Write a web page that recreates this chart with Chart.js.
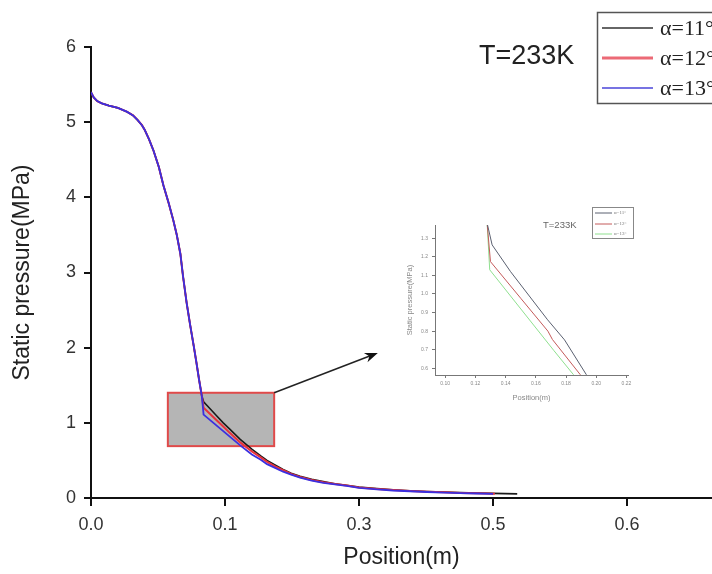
<!DOCTYPE html>
<html><head><meta charset="utf-8">
<script src="https://cdn.jsdelivr.net/npm/chart.js@4"></script>
<style>
html,body{margin:0;padding:0;background:#fff;overflow:hidden}
#wrap{position:relative;width:712px;height:574px}
#main{position:absolute;left:0;top:0}
#inset{position:absolute;left:395px;top:200px}
</style></head><body>
<div id="wrap"><canvas id="main" width="712" height="574"></canvas><canvas id="inset" width="255" height="210"></canvas></div>
<script>
// ---------- data (main chart) ----------
const seriesLabels = ['α=11°', 'α=12°', 'α=13°'];
// upstream part (identical for the three angles)
const upstreamPos = [0, 0.003, 0.007, 0.012, 0.020, 0.030, 0.040, 0.047, 0.052, 0.057, 0.060, 0.065, 0.070, 0.076, 0.081, 0.087, 0.092, 0.096, 0.100, 0.103, 0.107, 0.111, 0.115, 0.118, 0.121, 0.124];
const upstreamP   = [5.40, 5.33, 5.28, 5.25, 5.22, 5.19, 5.14, 5.09, 5.03, 4.96, 4.90, 4.77, 4.62, 4.40, 4.16, 3.92, 3.70, 3.50, 3.25, 2.95, 2.60, 2.30, 2.02, 1.80, 1.57, 1.36];
// downstream part per angle
const pos11 = [0.126, 0.133, 0.140, 0.148, 0.155, 0.167, 0.180, 0.190, 0.197, 0.206, 0.215, 0.224, 0.234, 0.247, 0.260, 0.273, 0.286, 0.300, 0.320, 0.338, 0.357, 0.376, 0.395, 0.413, 0.432, 0.450, 0.477];
const p11   = [1.28, 1.19, 1.10, 1.00, 0.92, 0.78, 0.65, 0.56, 0.50, 0.44, 0.38, 0.33, 0.29, 0.25, 0.22, 0.19, 0.17, 0.145, 0.125, 0.11, 0.097, 0.087, 0.079, 0.072, 0.067, 0.062, 0.055];
const pos12 = [0.126, 0.133, 0.140, 0.148, 0.155, 0.167, 0.180, 0.190, 0.197, 0.206, 0.215, 0.224, 0.234, 0.247, 0.260, 0.273, 0.286, 0.300, 0.320, 0.338, 0.357, 0.376, 0.395, 0.413, 0.432, 0.452];
const p12   = [1.20, 1.12, 1.04, 0.95, 0.87, 0.74, 0.62, 0.54, 0.48, 0.42, 0.37, 0.32, 0.28, 0.24, 0.21, 0.185, 0.165, 0.14, 0.12, 0.105, 0.093, 0.083, 0.075, 0.068, 0.063, 0.058];
const pos13 = [0.126, 0.133, 0.140, 0.148, 0.155, 0.167, 0.180, 0.190, 0.197, 0.206, 0.215, 0.224, 0.234, 0.247, 0.260, 0.273, 0.286, 0.300, 0.320, 0.338, 0.357, 0.376, 0.395, 0.413, 0.432, 0.450];
const p13   = [1.11, 1.04, 0.97, 0.89, 0.82, 0.70, 0.58, 0.51, 0.45, 0.40, 0.35, 0.31, 0.27, 0.23, 0.20, 0.18, 0.16, 0.135, 0.115, 0.10, 0.09, 0.08, 0.072, 0.065, 0.06, 0.055];
const xTickValues = [0, 0.15, 0.30, 0.45, 0.60];
const xTickLabels = ['0.0', '0.1', '0.3', '0.5', '0.6'];
const yTickValues = [0, 1, 2, 3, 4, 5, 6];
const zoomRegion = [0.086, 0.205, 0.69, 1.40];   // x0, x1, y0, y1
const arrowTip = [0.321, 1.93];
const tempLabel = 'T=233K';

// ---------- data (inset) ----------
const insPos11 = [0.1278, 0.1311, 0.1433, 0.1678, 0.1790, 0.1935];
const insP11   = [1.38, 1.264, 1.12, 0.861, 0.753, 0.565];
const insPos12 = [0.1278, 0.1300, 0.1500, 0.1680, 0.1710, 0.1895];
const insP12   = [1.38, 1.174, 0.977, 0.800, 0.755, 0.565];
const insPos13 = [0.1278, 0.1295, 0.1720, 0.1850];
const insP13   = [1.38, 1.13, 0.695, 0.565];
const insXTicks = [0.10, 0.12, 0.14, 0.16, 0.18, 0.20, 0.22];
const insYTicks = [0.6, 0.7, 0.8, 0.9, 1.0, 1.1, 1.2, 1.3];

const pts = (xs, ys) => xs.map((x, i) => ({x: x, y: ys[i]}));
const withUpstream = (xs, ys) => pts(upstreamPos, upstreamP).concat(pts(xs, ys));
const SANS = "'Liberation Sans', Arial, sans-serif";
const SERIF = "'Liberation Serif', 'Times New Roman', serif";
const mainColors = ['#1a1a1a', '#e8323c', '#3b2fe0'];
const insetColors = ['#5a6070', '#c45a5a', '#8fe08f'];

// ---------- main chart overlay ----------
const overlay = {
  id: 'overlay',
  beforeDatasetsDraw(chart) {
    const {ctx, scales: {x, y}} = chart;
    const x0 = x.getPixelForValue(zoomRegion[0]), x1 = x.getPixelForValue(zoomRegion[1]);
    const y0 = y.getPixelForValue(zoomRegion[3]), y1 = y.getPixelForValue(zoomRegion[2]);
    ctx.save();
    ctx.fillStyle = '#b5b5b5';
    ctx.fillRect(x0, y0, x1 - x0, y1 - y0);
    ctx.strokeStyle = '#e04a4a';
    ctx.lineWidth = 2;
    ctx.strokeRect(x0, y0, x1 - x0, y1 - y0);
    ctx.restore();
  },
  afterDatasetsDraw(chart) {
    const {ctx, scales: {x, y}} = chart;
    const sx = x.getPixelForValue(zoomRegion[1]), sy = y.getPixelForValue(zoomRegion[3]);
    const ex = x.getPixelForValue(arrowTip[0]), ey = y.getPixelForValue(arrowTip[1]);
    const ang = Math.atan2(ey - sy, ex - sx);
    ctx.save();
    ctx.strokeStyle = '#222';
    ctx.lineWidth = 1.5;
    ctx.beginPath();
    ctx.moveTo(sx, sy);
    ctx.lineTo(ex - 8 * Math.cos(ang), ey - 8 * Math.sin(ang));
    ctx.stroke();
    ctx.fillStyle = '#111';
    ctx.beginPath();
    ctx.moveTo(ex, ey);
    ctx.lineTo(ex - 13 * Math.cos(ang) + 5 * Math.sin(ang), ey - 13 * Math.sin(ang) - 5 * Math.cos(ang));
    ctx.lineTo(ex - 9 * Math.cos(ang), ey - 9 * Math.sin(ang));
    ctx.lineTo(ex - 13 * Math.cos(ang) - 5 * Math.sin(ang), ey - 13 * Math.sin(ang) + 5 * Math.cos(ang));
    ctx.closePath();
    ctx.fill();
    ctx.restore();
  },
  afterDraw(chart) {
    const ctx = chart.ctx;
    ctx.save();
    ctx.fillStyle = '#222';
    ctx.font = '27px ' + SANS;
    ctx.textBaseline = 'middle';
    ctx.textAlign = 'left';
    ctx.fillText(tempLabel, 479, 57);
    ctx.strokeStyle = '#555';
    ctx.lineWidth = 1.5;
    ctx.strokeRect(597.5, 12.5, 200, 91);
    const rows = [28, 58, 88];
    const widths = [1.5, 3, 1.5];
    const legColors = ['#333', '#ec6a76', '#4a44d8'];
    ctx.font = '22px ' + SERIF;
    chart.data.datasets.forEach((ds, i) => {
      ctx.strokeStyle = legColors[i];
      ctx.lineWidth = widths[i];
      ctx.beginPath();
      ctx.moveTo(602, rows[i]);
      ctx.lineTo(653, rows[i]);
      ctx.stroke();
      ctx.fillStyle = '#222';
      ctx.fillText(ds.label, 660, rows[i] + 1);
    });
    ctx.restore();
  }
};

new Chart(document.getElementById('main'), {
  type: 'line',
  data: {
    datasets: [
      {label: seriesLabels[0], data: withUpstream(pos11, p11), borderColor: mainColors[0], borderWidth: 1.6, pointRadius: 0, tension: 0, order: 2},
      {label: seriesLabels[1], data: withUpstream(pos12, p12), borderColor: mainColors[1], borderWidth: 2, pointRadius: 0, tension: 0, order: 1},
      {label: seriesLabels[2], data: withUpstream(pos13, p13), borderColor: mainColors[2], borderWidth: 1.8, pointRadius: 0, tension: 0, order: 0}
    ]
  },
  options: {
    responsive: false,
    animation: false,
    events: [],
    layout: {padding: {top: 47, right: 0, bottom: 0, left: 0}},
    plugins: {legend: {display: false}, tooltip: {enabled: false}},
    scales: {
      x: {
        type: 'linear', min: 0, max: 0.695,
        afterBuildTicks: s => { s.ticks = xTickValues.map(v => ({value: v})); },
        ticks: {callback: (v, i) => xTickLabels[i], font: {family: SANS, size: 18}, color: '#333', padding: 8, maxRotation: 0, autoSkip: false},
        grid: {display: true, drawOnChartArea: false, drawTicks: true, tickLength: 8, color: '#111', lineWidth: 2},
        border: {display: true, color: '#111', width: 2},
        title: {display: true, text: 'Position(m)', font: {family: SANS, size: 23}, color: '#222', padding: {top: 0, bottom: 3}},
        afterFit: s => { s.height = 76; }
      },
      y: {
        type: 'linear', min: 0, max: 6,
        afterBuildTicks: s => { s.ticks = yTickValues.map(v => ({value: v})); },
        ticks: {callback: v => String(v), font: {family: SANS, size: 18}, color: '#333', padding: 8},
        grid: {display: true, drawOnChartArea: false, drawTicks: true, tickLength: 7, color: '#111', lineWidth: 2},
        border: {display: true, color: '#111', width: 2},
        title: {display: true, text: 'Static pressure(MPa)', font: {family: SANS, size: 23}, color: '#222', padding: {top: 9, bottom: 0}},
        afterFit: s => { s.width = 91; }
      }
    }
  },
  plugins: [overlay]
});

// ---------- inset chart ----------
const insetOverlay = {
  id: 'insetOverlay',
  afterDraw(chart) {
    const ctx = chart.ctx;
    ctx.save();
    ctx.fillStyle = '#666';
    ctx.font = '9.5px ' + SANS;
    ctx.textBaseline = 'middle';
    ctx.fillText(tempLabel, 148, 25);
    ctx.strokeStyle = '#888';
    ctx.lineWidth = 1;
    ctx.strokeRect(197.5, 7.5, 41, 31);
    const rows = [13, 24, 34];
    ctx.font = '5px ' + SERIF;
    chart.data.datasets.forEach((ds, i) => {
      ctx.strokeStyle = insetColors[i];
      ctx.beginPath();
      ctx.moveTo(200, rows[i]);
      ctx.lineTo(217, rows[i]);
      ctx.stroke();
      ctx.fillStyle = '#777';
      ctx.fillText(ds.label, 219, rows[i]);
    });
    ctx.restore();
  }
};

new Chart(document.getElementById('inset'), {
  type: 'line',
  data: {
    datasets: [
      {label: seriesLabels[0], data: pts(insPos11, insP11), borderColor: insetColors[0], borderWidth: 1, pointRadius: 0, tension: 0},
      {label: seriesLabels[1], data: pts(insPos12, insP12), borderColor: insetColors[1], borderWidth: 1, pointRadius: 0, tension: 0},
      {label: seriesLabels[2], data: pts(insPos13, insP13), borderColor: insetColors[2], borderWidth: 1, pointRadius: 0, tension: 0}
    ]
  },
  options: {
    responsive: false,
    animation: false,
    events: [],
    layout: {padding: {top: 25, right: 22, bottom: 0, left: 0}},
    plugins: {legend: {display: false}, tooltip: {enabled: false}},
    scales: {
      x: {
        type: 'linear', min: 0.0933, max: 0.221,
        afterBuildTicks: s => { s.ticks = insXTicks.map(v => ({value: v})); },
        ticks: {callback: v => v.toFixed(2), font: {family: SANS, size: 5}, color: '#888', padding: 3, maxRotation: 0, autoSkip: false},
        grid: {display: true, drawOnChartArea: false, drawTicks: true, tickLength: 3, color: '#777', lineWidth: 1},
        border: {display: true, color: '#777', width: 1},
        title: {display: true, text: 'Position(m)', font: {family: SANS, size: 7.5}, color: '#888', padding: {top: 0, bottom: 8}},
        afterFit: s => { s.height = 35; }
      },
      y: {
        type: 'linear', min: 0.564, max: 1.371,
        afterBuildTicks: s => { s.ticks = insYTicks.map(v => ({value: v})); },
        ticks: {callback: v => v.toFixed(1), font: {family: SANS, size: 5}, color: '#888', padding: 4, autoSkip: false},
        grid: {display: true, drawOnChartArea: false, drawTicks: true, tickLength: 3, color: '#777', lineWidth: 1},
        border: {display: true, color: '#777', width: 1},
        title: {display: true, text: 'Static pressure(MPa)', font: {family: SANS, size: 7.5}, color: '#888', padding: {top: 10, bottom: 0}},
        afterFit: s => { s.width = 40; }
      }
    }
  },
  plugins: [insetOverlay]
});
</script>
</body></html>
